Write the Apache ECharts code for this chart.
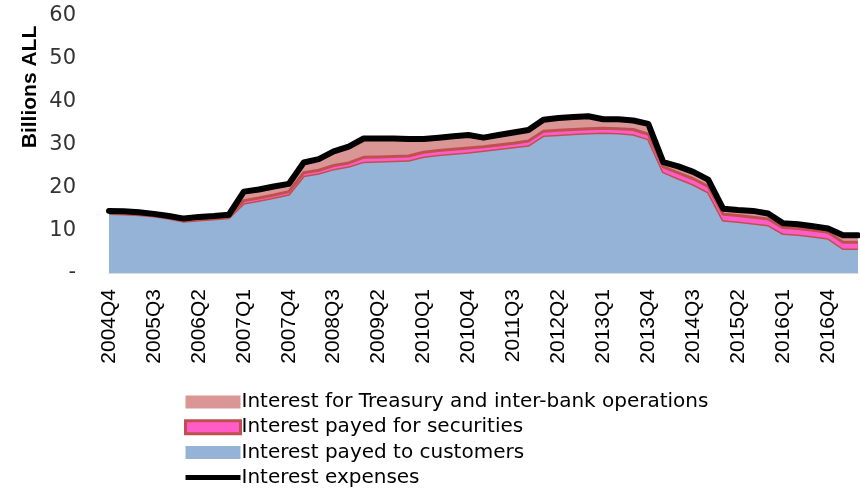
<!DOCTYPE html>
<html>
<head>
<meta charset="utf-8">
<script src="https://cdn.jsdelivr.net/npm/echarts@6/dist/echarts.min.js"></script>
<style>
  html, body { margin: 0; padding: 0; background: #fff; }
  #main { width: 860px; height: 490px; }
</style>
</head>
<body>
<div id="main"></div>
<script>
// quarters 2004Q4 .. 2017Q2
const quarters = [
    '2004Q4',
    '2005Q1', '2005Q2', '2005Q3', '2005Q4',
    '2006Q1', '2006Q2', '2006Q3', '2006Q4',
    '2007Q1', '2007Q2', '2007Q3', '2007Q4',
    '2008Q1', '2008Q2', '2008Q3', '2008Q4',
    '2009Q1', '2009Q2', '2009Q3', '2009Q4',
    '2010Q1', '2010Q2', '2010Q3', '2010Q4',
    '2011Q1', '2011Q2', '2011Q3', '2011Q4',
    '2012Q1', '2012Q2', '2012Q3', '2012Q4',
    '2013Q1', '2013Q2', '2013Q3', '2013Q4',
    '2014Q1', '2014Q2', '2014Q3', '2014Q4',
    '2015Q1', '2015Q2', '2015Q3', '2015Q4',
    '2016Q1', '2016Q2', '2016Q3', '2016Q4',
    '2017Q1', '2017Q2'
];

// billions ALL
const customers = [
    13.9,
    13.8, 13.6, 13.3, 12.8,
    12.1, 12.4, 12.6, 12.9,
    16.3, 16.9, 17.6, 18.4,
    22.7, 23.3, 24.3, 24.9,
    26.0, 26.1, 26.2, 26.3,
    27.2, 27.6, 27.9, 28.2,
    28.6, 29.0, 29.4, 29.8,
    32.1, 32.3, 32.5, 32.7,
    32.8, 32.7, 32.4, 31.3,
    23.6, 22.1, 20.7, 18.9,
    12.3, 12.0, 11.6, 11.2,
    9.2, 9.0, 8.6, 8.1,
    5.7, 5.7
];

const securities = [
    0.3,
    0.3, 0.3, 0.3, 0.3,
    0.3, 0.3, 0.3, 0.3,
    0.6, 0.6, 0.6, 0.6,
    0.7, 0.7, 0.8, 0.8,
    1.0, 1.0, 1.0, 1.0,
    1.0, 1.0, 1.0, 1.0,
    0.9, 0.9, 0.9, 1.0,
    1.0, 1.0, 1.0, 1.0,
    1.0, 1.0, 1.1, 1.1,
    1.2, 1.3, 1.3, 1.3,
    1.4, 1.4, 1.4, 1.4,
    1.4, 1.4, 1.4, 1.4,
    1.5, 1.5
];

const treasury = [
    0.3,
    0.3, 0.3, 0.2, 0.2,
    0.3, 0.4, 0.4, 0.4,
    2.1, 2.0, 2.0, 1.8,
    2.4, 2.6, 3.3, 3.8,
    4.4, 4.3, 4.2, 4.0,
    3.1, 3.0, 3.0, 3.0,
    2.1, 2.3, 2.5, 2.6,
    2.7, 2.9, 2.9, 2.9,
    2.1, 2.2, 2.1, 2.4,
    1.1, 1.5, 1.6, 1.6,
    1.3, 1.3, 1.5, 1.3,
    1.0, 1.0, 0.9, 0.9,
    1.6, 1.6
];

const expenses = [
    14.5,
    14.4, 14.2, 13.8, 13.3,
    12.7, 13.1, 13.3, 13.6,
    19.0, 19.5, 20.2, 20.8,
    25.8, 26.6, 28.4, 29.5,
    31.4, 31.4, 31.4, 31.3,
    31.3, 31.6, 31.9, 32.2,
    31.6, 32.2, 32.8, 33.4,
    35.8, 36.2, 36.4, 36.6,
    35.9, 35.9, 35.6, 34.8,
    25.9, 24.9, 23.6, 21.8,
    15.0, 14.7, 14.5, 13.9,
    11.6, 11.4, 10.9, 10.4,
    8.8, 8.8
];

const names = {
    treasury: 'Interest for Treasury and inter-bank operations',
    securities: 'Interest payed for securities',
    customers: 'Interest payed to customers',
    expenses: 'Interest expenses'
};

const colors = {
    blue: '#95B3D7',
    rose: '#D99694',
    red: '#C0504D',
    pink: '#FF5CC8',
    black: '#000000'
};

const labelFont = 'DejaVu Sans, sans-serif';

const option = {
    animation: false,
    backgroundColor: '#ffffff',
    grid: {
        left: 109,
        right: 2,
        top: 16,
        bottom: 217
    },
    graphic: [{
        type: 'text',
        x: 30,
        y: 87,
        rotation: Math.PI / 2,
        style: {
            text: 'Billions ALL',
            font: 'bold 21px Liberation Sans, Arial, sans-serif',
            fill: '#000',
            align: 'center',
            verticalAlign: 'middle'
        }
    }],
    legend: {
        orient: 'vertical',
        left: 184,
        top: 392,
        padding: 0,
        itemWidth: 55,
        itemHeight: 13,
        itemGap: 5.2,
        textStyle: {
            fontFamily: labelFont,
            fontSize: 20,
            color: '#000',
            padding: [0, 0, 0, -4]
        },
        data: [
            { name: names.treasury, icon: 'rect', itemStyle: { color: colors.rose, borderWidth: 0 } },
            { name: names.securities, icon: 'rect', itemStyle: { color: colors.pink, borderColor: colors.red, borderWidth: 3 } },
            { name: names.customers, icon: 'rect', itemStyle: { color: colors.blue, borderWidth: 0 } },
            { name: names.expenses, icon: 'path://M0,0H55V5H0Z', itemStyle: { color: colors.black, borderWidth: 0 } }
        ]
    },
    xAxis: {
        type: 'category',
        data: quarters,
        boundaryGap: false,
        axisLine: { lineStyle: { color: '#D9D9D9', width: 1 } },
        axisTick: { show: false },
        axisLabel: {
            interval: 2,
            rotate: 90,
            margin: 16,
            fontFamily: 'Liberation Sans, Arial, sans-serif',
            fontSize: 21,
            color: '#000'
        },
        splitLine: { show: false }
    },
    yAxis: {
        type: 'value',
        min: 0,
        max: 60,
        interval: 10,
        axisLine: { show: false },
        axisTick: { show: false },
        splitLine: { show: false },
        axisLabel: {
            margin: 33,
            fontFamily: labelFont,
            fontSize: 21,
            color: '#333',
            formatter: v => (v === 0 ? '-' : v)
        }
    },
    series: [
        {
            name: names.customers,
            type: 'line',
            stack: 'total',
            data: customers,
            symbol: 'none',
            lineStyle: { color: colors.red, width: 3 },
            itemStyle: { color: colors.blue },
            areaStyle: { color: colors.blue, opacity: 1 },
            z: 2
        },
        {
            name: names.securities,
            type: 'line',
            stack: 'total',
            data: securities,
            symbol: 'none',
            lineStyle: { color: colors.red, width: 3 },
            itemStyle: { color: colors.pink },
            areaStyle: { color: colors.pink, opacity: 1 },
            z: 3
        },
        {
            name: names.treasury,
            type: 'line',
            stack: 'total',
            data: treasury,
            symbol: 'none',
            lineStyle: { width: 0 },
            itemStyle: { color: colors.rose },
            areaStyle: { color: colors.rose, opacity: 1 },
            z: 1
        },
        {
            name: names.expenses,
            type: 'line',
            data: expenses,
            symbol: 'none',
            lineStyle: { color: colors.black, width: 6, join: 'round', cap: 'round' },
            itemStyle: { color: colors.black },
            z: 5
        }
    ]
};

let plot = echarts.init(document.querySelector('#main'), null, { renderer: 'canvas' });
plot.setOption(option);
</script>
</body>
</html>
